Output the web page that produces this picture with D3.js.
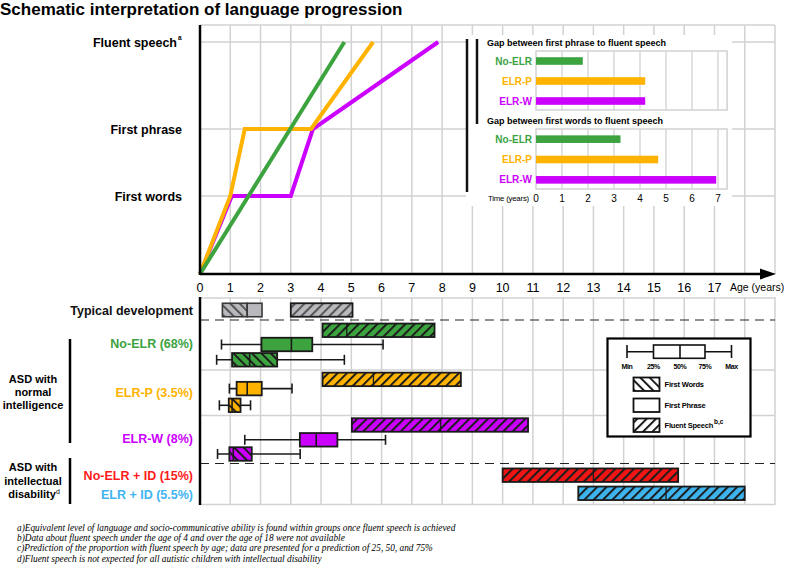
<!DOCTYPE html>
<html>
<head>
<meta charset="utf-8">
<script src="https://cdn.jsdelivr.net/npm/d3@7"></script>
<style>
  body { margin: 0; background: #fff; }
  text { font-family: Arial, "Liberation Sans", sans-serif; }
  .note { font-family: "Liberation Serif", "DejaVu Serif", serif; font-style: italic; }
</style>
</head>
<body>
<svg id="chart" width="787" height="565"></svg>
<script>
// ---- data ----
const levels = ['Onset', 'First words', 'First phrase', 'Fluent speech'];
const ageTicks = d3.range(0, 18);
const gridYears = d3.range(1, 20);

// language progression, [age, level]
const lineNoELR = [[0, 'Onset'], [4.77, 'Fluent speech']];
const lineELRP = [[0, 'Onset'], [1.0, 'First words'], [1.48, 'First phrase'], [3.67, 'First phrase'], [5.72, 'Fluent speech']];
const lineELRW = [[0, 'Onset'], [1.05, 'First words'], [3.0, 'First words'], [3.73, 'First phrase'], [7.87, 'Fluent speech']];

// inset: gap in years
const gapGroups = ['No-ELR', 'ELR-P', 'ELR-W'];
const gapPhraseToFluent = [1.8, 4.2, 4.2];
const gapWordsToFluent = [3.25, 4.7, 6.93];
const gapTicks = d3.range(0, 8);

// box plots [min, 25%, 50%, 75%, max]
const noElrPhrase = [0.71, 2.03, 3.02, 3.71, 6.05];
const noElrWords = [0.55, 1.06, 1.64, 2.55, 4.77];
const elrPPhrase = [0.97, 1.21, 1.56, 2.04, 3.04];
const elrPWords = [0.64, 0.95, 1.06, 1.34, 1.67];
const elrWPhrase = [1.48, 3.3, 3.84, 4.54, 6.13];
const elrWWords = [0.58, 0.97, 1.1, 1.71, 3.31];

// fluent speech prediction [25%, 50%, 75%]
const noElrFluent = [4.05, 4.85, 7.75];
const elrPFluent = [4.05, 5.73, 8.62];
const elrWFluent = [5.02, 7.95, 10.84];
const noElrIdFluent = [10.0, 13.0, 15.8];
const elrIdFluent = [12.5, 15.4, 18.0];

// typical development [start, end]
const tdWords = [0.74, 1.56];
const tdPhrase = [1.56, 2.05];
const tdFluent = [3.0, 5.04];

const rowLabels = ['Typical development', 'No-ELR (68%)', 'ELR-P (3.5%)', 'ELR-W (8%)', 'No-ELR + ID (15%)', 'ELR + ID (5.5%)'];
const legendStats = ['Min', '25%', '50%', '75%', 'Max'];
const notes = [
  'a)Equivalent level of language and socio-communicative ability is found within groups once fluent speech is achieved',
  'b)Data about fluent speech under the age of 4 and over the age of 18 were not available',
  'c)Prediction of the proportion with fluent speech by age; data are presented for a prediction of 25, 50, and 75%',
  'd)Fluent speech is not expected for all autistic children with intellectual disability'
];

// ---- colours ----
const col = {
  green: '#3ca33f', orange: '#ffb300', purple: '#cc00ff',
  red: '#f01414', blue: '#3db4ee', gray: '#b9b9bd', grid: '#d2d2d2'
};
const labelColor = ['#111', col.green, col.orange, col.purple, '#ff1a1a', '#3fb4f0'];

// ---- scales ----
const x = d3.scaleLinear().domain([0, 19]).range([200, 775]);
const yLevel = d3.scaleOrdinal().domain(levels).range([274, 196, 129, 42]);
const xGap = d3.scaleLinear().domain([0, 7]).range([536, 718]);
const yGap1 = d3.scaleBand().domain(gapGroups).range([51, 111]);
const yGap2 = d3.scaleBand().domain(gapGroups).range([129, 190]);

// row centres in the lower panel
const yRow = d3.scaleOrdinal()
  .domain(['td', 'noElrF', 'noElrP', 'noElrW', 'elrPF', 'elrPP', 'elrPW', 'elrWF', 'elrWP', 'elrWW', 'noElrId', 'elrId'])
  .range([310, 330.3, 344.5, 359.8, 379.4, 388.6, 405.3, 425, 439.8, 454, 475.2, 493.3]);
const BOX_H = 13.5;

const svg = d3.select('#chart');
const defs = svg.append('defs');

function hatch(id, fill, angle, stroke) {
  let p = defs.append('pattern')
    .attr('id', id)
    .attr('patternUnits', 'userSpaceOnUse')
    .attr('width', 6.6).attr('height', 6.6)
    .attr('patternTransform', 'rotate(' + angle + ')');
  p.append('rect').attr('width', 6.6).attr('height', 6.6).attr('fill', fill);
  p.append('line').attr('x1', 1).attr('y1', 0).attr('x2', 1).attr('y2', 6.6)
    .attr('stroke', stroke || '#1c1c1c').attr('stroke-width', 2);
}
[['gray', col.gray], ['green', col.green], ['orange', col.orange], ['purple', col.purple],
 ['red', col.red], ['blue', col.blue], ['white', '#fff']].forEach(c => {
  let s = c[0] === 'gray' ? '#555' : '#1c1c1c';
  hatch('fs-' + c[0], c[1], 45, s);   // "///" fluent speech
  hatch('fw-' + c[0], c[1], -45, s);  // "\\\" first words
});

// ---- title ----
svg.append('text').attr('x', 0).attr('y', 14.5)
  .style('font-size', '17px').style('font-weight', 'bold')
  .text('Schematic interpretation of language progression');

// ---- upper grid ----
let up = svg.append('g');
up.selectAll('.vg').data(gridYears).join('line')
  .attr('x1', d => x(d)).attr('x2', d => x(d)).attr('y1', 25).attr('y2', 274)
  .attr('stroke', col.grid).attr('stroke-width', 1.5);
up.selectAll('.hg').data([25].concat(levels.slice(1).map(yLevel))).join('line')
  .attr('x1', x(0)).attr('x2', x(19)).attr('y1', d => d).attr('y2', d => d)
  .attr('stroke', col.grid).attr('stroke-width', 1.5);

// level labels
up.selectAll('.lvl').data(levels.slice(1)).join('text')
  .attr('x', d => d === 'Fluent speech' ? 177 : 182)
  .attr('y', d => yLevel(d) + 4.5)
  .attr('text-anchor', 'end')
  .style('font-size', '12.5px').style('font-weight', 'bold')
  .text(d => d);
up.append('text').attr('x', 178).attr('y', yLevel('Fluent speech') - 2)
  .style('font-size', '6.5px').style('font-weight', 'bold').text('a');

// progression lines
let line = d3.line().x(d => x(d[0])).y(d => yLevel(d[1]));
[[lineELRW, col.purple], [lineELRP, col.orange], [lineNoELR, col.green]].forEach(l => {
  up.append('path').attr('d', line(l[0]))
    .attr('fill', 'none').attr('stroke', l[1]).attr('stroke-width', 4);
});

// ---- inset ----
let ins = svg.append('g');
ins.append('rect').attr('x', 466).attr('y', 35).attr('width', 266).attr('height', 171).attr('fill', '#fff');
ins.append('line').attr('x1', 467).attr('x2', 467).attr('y1', 39).attr('y2', 192)
  .attr('stroke', '#111').attr('stroke-width', 2.5);
ins.append('line').attr('x1', 477).attr('x2', 477).attr('y1', 39).attr('y2', 124)
  .attr('stroke', '#111').attr('stroke-width', 2.5);

function gapPanel(yb, values, title) {
  let r = yb.range();
  ins.append('text').attr('x', 487).attr('y', r[0] - 5)
    .style('font-size', '9px').style('font-weight', 'bold').text(title);
  ins.append('g').selectAll('line').data(gapTicks.slice(1)).join('line')
    .attr('x1', d => xGap(d)).attr('x2', d => xGap(d)).attr('y1', r[0]).attr('y2', r[1] - 1)
    .attr('stroke', col.grid).attr('stroke-width', 1.3);
  ins.append('rect').attr('x', xGap(0)).attr('y', r[0]).attr('width', xGap(7.35) - xGap(0)).attr('height', r[1] - r[0] - 1)
    .attr('fill', 'none').attr('stroke', col.grid).attr('stroke-width', 1.5);
  ins.append('g').selectAll('rect').data(values).join('rect')
    .attr('x', xGap(0)).attr('width', d => xGap(d) - xGap(0))
    .attr('y', (d, i) => yb(gapGroups[i]) + yb.bandwidth() / 2 - 3.8).attr('height', 7.6)
    .attr('fill', (d, i) => [col.green, col.orange, col.purple][i]);
  ins.append('g').selectAll('text').data(gapGroups).join('text')
    .attr('x', 532).attr('y', d => yb(d) + yb.bandwidth() / 2 + 3.6)
    .attr('text-anchor', 'end')
    .style('font-size', '10px').style('font-weight', 'bold')
    .attr('fill', (d, i) => labelColor[i + 1])
    .text(d => d);
}
gapPanel(yGap1, gapPhraseToFluent, 'Gap between first phrase to fluent speech');
gapPanel(yGap2, gapWordsToFluent, 'Gap between first words to fluent speech');

ins.append('g').selectAll('text').data(gapTicks).join('text')
  .attr('x', d => xGap(d)).attr('y', 201.5).attr('text-anchor', 'middle')
  .style('font-size', '10px').text(d => d);
ins.append('text').attr('x', 529).attr('y', 200.5).attr('text-anchor', 'end')
  .style('font-size', '7.8px').style('letter-spacing', '-0.2px').text('Time (years)');

// ---- main axes ----
svg.append('line').attr('x1', x(0)).attr('x2', x(0)).attr('y1', 25).attr('y2', 275)
  .attr('stroke', '#000').attr('stroke-width', 2.5);
svg.append('line').attr('x1', x(0)).attr('x2', 762).attr('y1', 274).attr('y2', 274)
  .attr('stroke', '#000').attr('stroke-width', 2.5);
svg.append('path').attr('d', 'M760,268.5L776,274L760,279.5Z').attr('fill', '#000');
svg.append('g').selectAll('text').data(ageTicks).join('text')
  .attr('x', d => x(d)).attr('y', 291.5).attr('text-anchor', 'middle')
  .style('font-size', '12.5px').text(d => d);
svg.append('text').attr('x', 730).attr('y', 291).style('font-size', '10.5px').text('Age (years)');

// ---- lower grid ----
let low = svg.append('g');
low.selectAll('.vg').data(gridYears).join('line')
  .attr('x1', d => x(d)).attr('x2', d => x(d)).attr('y1', 297).attr('y2', 505)
  .attr('stroke', col.grid).attr('stroke-width', 1.5);
low.selectAll('.hg').data([298, 370, 415.5, 504.5]).join('line')
  .attr('x1', x(0)).attr('x2', x(19)).attr('y1', d => d).attr('y2', d => d)
  .attr('stroke', col.grid).attr('stroke-width', 1.5);
low.selectAll('.dash').data([320, 463.5]).join('line')
  .attr('x1', x(0)).attr('x2', x(19)).attr('y1', d => d).attr('y2', d => d)
  .attr('stroke', '#222').attr('stroke-width', 1.2).attr('stroke-dasharray', '9,6');

function boxplot(s, key, color, fill) {
  let yc = yRow(key);
  let g = low.append('g');
  g.append('line').attr('x1', x(s[0])).attr('x2', x(s[4])).attr('y1', yc).attr('y2', yc)
    .attr('stroke', '#1a1a1a').attr('stroke-width', 1.6);
  g.selectAll('.cap').data([s[0], s[4]]).join('line')
    .attr('x1', d => x(d)).attr('x2', d => x(d)).attr('y1', yc - 5).attr('y2', yc + 5)
    .attr('stroke', '#1a1a1a').attr('stroke-width', 1.6);
  g.append('rect').attr('x', x(s[1])).attr('width', x(s[3]) - x(s[1]))
    .attr('y', yc - BOX_H / 2).attr('height', BOX_H)
    .attr('fill', fill || color).attr('stroke', '#1a1a1a').attr('stroke-width', 1.8);
  g.append('line').attr('x1', x(s[2])).attr('x2', x(s[2])).attr('y1', yc - BOX_H / 2).attr('y2', yc + BOX_H / 2)
    .attr('stroke', '#1a1a1a').attr('stroke-width', 1.6);
}
function fluentBar(s, key, name) {
  let yc = yRow(key);
  let g = low.append('g');
  g.append('rect').attr('x', x(s[0])).attr('width', x(s[s.length - 1]) - x(s[0]))
    .attr('y', yc - BOX_H / 2).attr('height', BOX_H)
    .attr('fill', 'url(#fs-' + name + ')').attr('stroke', '#1a1a1a').attr('stroke-width', 1.8);
  if (s.length === 3) {
    g.append('line').attr('x1', x(s[1])).attr('x2', x(s[1])).attr('y1', yc - BOX_H / 2).attr('y2', yc + BOX_H / 2)
      .attr('stroke', '#1a1a1a').attr('stroke-width', 1.3);
  }
}

// typical development
[[tdWords, 'url(#fw-gray)'], [tdPhrase, col.gray]].forEach(t => {
  low.append('rect').attr('x', x(t[0][0])).attr('width', x(t[0][1]) - x(t[0][0]))
    .attr('y', yRow('td') - BOX_H / 2).attr('height', BOX_H)
    .attr('fill', t[1]).attr('stroke', '#3a3a3a').attr('stroke-width', 1.6);
});
fluentBar(tdFluent, 'td', 'gray');

fluentBar(noElrFluent, 'noElrF', 'green');
boxplot(noElrPhrase, 'noElrP', col.green);
boxplot(noElrWords, 'noElrW', col.green, 'url(#fw-green)');
fluentBar(elrPFluent, 'elrPF', 'orange');
boxplot(elrPPhrase, 'elrPP', col.orange);
boxplot(elrPWords, 'elrPW', col.orange, 'url(#fw-orange)');
fluentBar(elrWFluent, 'elrWF', 'purple');
boxplot(elrWPhrase, 'elrWP', col.purple);
boxplot(elrWWords, 'elrWW', col.purple, 'url(#fw-purple)');
fluentBar(noElrIdFluent, 'noElrId', 'red');
fluentBar(elrIdFluent, 'elrId', 'blue');

low.append('line').attr('x1', x(0)).attr('x2', x(0)).attr('y1', 297).attr('y2', 505)
  .attr('stroke', '#000').attr('stroke-width', 2.5);

// row labels
let rowY = [yRow('td'), 343, 392.5, 438, 475.7, 494];
svg.append('g').selectAll('text').data(rowLabels).join('text')
  .attr('x', 193).attr('y', (d, i) => rowY[i] + 4.5)
  .attr('text-anchor', 'end')
  .style('font-size', '12.5px').style('font-weight', 'bold')
  .attr('fill', (d, i) => labelColor[i])
  .text(d => d);

// group brackets
[[339, 443], [458, 504]].forEach(b => {
  svg.append('line').attr('x1', 70).attr('x2', 70).attr('y1', b[0]).attr('y2', b[1])
    .attr('stroke', '#000').attr('stroke-width', 2.5);
});
let grp = svg.append('g').style('font-size', '11px').style('font-weight', 'bold').attr('text-anchor', 'middle');
[['ASD with', 379], ['normal', 392], ['intelligence', 405], ['ASD with', 467], ['intellectual', 480.5]]
  .forEach(t => grp.append('text').attr('x', 33).attr('y', t[1] + 4).text(t[0]));
let dis = grp.append('text').attr('x', 34).attr('y', 497.5);
dis.append('tspan').text('disability');
dis.append('tspan').attr('dy', -4).style('font-size', '7px').style('font-weight', 'normal').text('d');

// ---- legend ----
let lg = svg.append('g');
lg.append('rect').attr('x', 607.5).attr('y', 338.5).attr('width', 143).attr('height', 98)
  .attr('fill', '#fff').attr('stroke', '#000').attr('stroke-width', 2.2);
let lx = d3.scaleOrdinal().domain(legendStats).range([627, 653.5, 680, 705, 731.5]);
lg.append('line').attr('x1', lx('Min')).attr('x2', lx('Max')).attr('y1', 351.7).attr('y2', 351.7)
  .attr('stroke', '#111').attr('stroke-width', 1.6);
lg.selectAll('.cap').data(['Min', 'Max']).join('line')
  .attr('x1', d => lx(d)).attr('x2', d => lx(d)).attr('y1', 345).attr('y2', 358)
  .attr('stroke', '#111').attr('stroke-width', 1.6);
lg.append('rect').attr('x', lx('25%')).attr('width', lx('75%') - lx('25%')).attr('y', 345).attr('height', 13.3)
  .attr('fill', '#fff').attr('stroke', '#111').attr('stroke-width', 1.6);
lg.append('line').attr('x1', lx('50%')).attr('x2', lx('50%')).attr('y1', 345).attr('y2', 358.3)
  .attr('stroke', '#111').attr('stroke-width', 1.6);
lg.selectAll('.st').data(legendStats).join('text')
  .attr('x', d => lx(d)).attr('y', 368.5).attr('text-anchor', 'middle')
  .style('font-size', '7px').style('font-weight', 'bold').style('letter-spacing', '-0.3px')
  .text(d => d);
[['First Words', 'url(#fw-white)', 377.5], ['First Phrase', '#fff', 398.5], ['Fluent Speech', 'url(#fs-white)', 418.5]].forEach(e => {
  lg.append('rect').attr('x', 633.5).attr('y', e[2]).attr('width', 26).attr('height', 13.5)
    .attr('fill', e[1]).attr('stroke', '#111').attr('stroke-width', 1.8);
  lg.append('text').attr('x', 664.5).attr('y', e[2] + 9.5)
    .style('font-size', '7.5px').style('font-weight', 'bold').style('letter-spacing', '-0.2px')
    .text(e[0]);
});
lg.append('text').attr('x', 714).attr('y', 424).style('font-size', '6.5px').style('font-weight', 'bold').text('b,c');

// ---- footnotes ----
svg.append('g').selectAll('text').data(notes).join('text')
  .attr('class', 'note')
  .attr('x', 17).attr('y', (d, i) => 530.5 + i * 10.4)
  .style('font-size', '9.3px')
  .text(d => d);
</script>
</body>
</html>
